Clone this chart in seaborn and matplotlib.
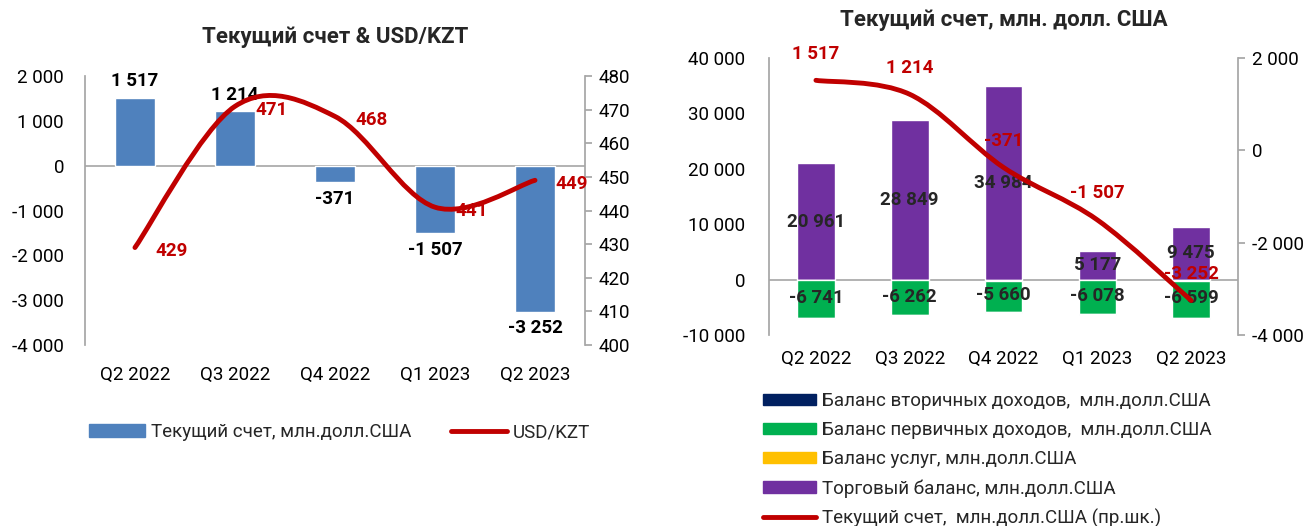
import numpy as np
import pandas as pd
import seaborn as sns
import matplotlib.pyplot as plt
from matplotlib.path import Path
from matplotlib.patches import PathPatch, Patch
from matplotlib.lines import Line2D
from matplotlib.ticker import FuncFormatter, MultipleLocator

# data
quarters = ['Q2 2022', 'Q3 2022', 'Q4 2022', 'Q1 2023', 'Q2 2023']
current_account = [1517, 1214, -371, -1507, -3252]
usd_kzt = [429, 471, 468, 441, 449]
trade_balance = [20961, 28849, 34984, 5177, 9475]
services_balance = [-150, -100, -250, -100, -250]
primary_income = [-6741, -6262, -5660, -6078, -6599]
secondary_income = [-150, -150, -180, -150, -220]

sns.set_theme(style='white')
plt.rcParams['font.family'] = ['Roboto', 'DejaVu Sans']
plt.rcParams['axes.unicode_minus'] = False

RED = '#C00000'
BLUE = '#4F81BD'
GRID = '#A6A6A6'
TICK = 13.5
LBL = 13.5
fmt = FuncFormatter(lambda v, p: f'{v:,.0f}'.replace(',', ' '))


def smooth_line(ax, ys, **kw):
    # Excel-style smoothed line as a bezier path through the data points
    xs = np.arange(len(ys), dtype=float)
    ys = np.asarray(ys, dtype=float)
    px = np.concatenate([[xs[0]], xs, [xs[-1]]])
    py = np.concatenate([[ys[0]], ys, [ys[-1]]])
    verts = [(xs[0], ys[0])]
    codes = [Path.MOVETO]
    for j in range(1, len(xs)):
        c1 = (px[j] + (px[j + 1] - px[j - 1]) / 6, py[j] + (py[j + 1] - py[j - 1]) / 6)
        c2 = (px[j + 1] - (px[j + 2] - px[j]) / 6, py[j + 1] - (py[j + 2] - py[j]) / 6)
        verts += [c1, c2, (px[j + 1], py[j + 1])]
        codes += [Path.CURVE4] * 3
    ax.add_patch(PathPatch(Path(verts, codes), facecolor='none', **kw))


def style_axes(ax, ax2, lpad):
    for a in (ax, ax2):
        for s in ('top', 'bottom'):
            a.spines[s].set_visible(False)
        a.spines['left'].set_color(GRID)
        a.spines['right'].set_color(GRID)
    ax.spines['right'].set_visible(False)
    ax2.spines['left'].set_visible(False)
    ax.tick_params(axis='x', length=0, labelsize=TICK, colors='black')
    ax.tick_params(axis='y', length=0, labelsize=TICK, colors='black', pad=lpad)
    ax2.tick_params(axis='y', right=True, length=5, color=GRID, labelsize=TICK, colors='black', pad=5)
    ax.axhline(0, color=GRID, lw=1.2, zorder=1)


fig = plt.figure(figsize=(13.09, 5.26), dpi=100)

# ---------- left chart ----------
axL = fig.add_axes([0.0649, 0.344, 0.382, 0.5114])
dfL = pd.DataFrame({'q': quarters, 'ca': current_account})
sns.barplot(data=dfL, x='q', y='ca', color=BLUE, width=0.4, saturation=1, ax=axL, zorder=2)
axL.set_xlim(-0.5, 4.5)
axL.set_ylim(-4000, 2000)
axL.yaxis.set_major_locator(MultipleLocator(1000))
axL.yaxis.set_major_formatter(fmt)
axL.set_xlabel('')
axL.set_ylabel('')
axL2 = axL.twinx()
axL2.set_ylim(400, 480)
axL2.yaxis.set_major_locator(MultipleLocator(10))
style_axes(axL, axL2, 15)
axL.tick_params(axis='x', pad=15)
axL.set_title('Текущий счет & USD/KZT', fontsize=16, fontweight='bold', pad=24)
smooth_line(axL2, usd_kzt, edgecolor=RED, lw=3.5, capstyle='round', zorder=3)
for i, v in enumerate(current_account):
    off = 170 if v > 0 else -170
    axL.text(i, v + off, fmt(v), ha='center', va='bottom' if v > 0 else 'top',
             fontsize=LBL, fontweight='bold', color='black')
for i, v in enumerate(usd_kzt):
    axL2.text(i + 0.2, v - 1, str(v), ha='left', va='center',
              fontsize=LBL, fontweight='bold', color=RED)
fig.legend(handles=[Patch(color=BLUE, label='Текущий счет, млн.долл.США'),
                    Line2D([], [], color=RED, lw=3.5, solid_capstyle='round', label='USD/KZT')],
           loc='center left', bbox_to_anchor=(0.068, 0.178), ncol=2, frameon=False,
           fontsize=TICK, handlelength=3.0, handleheight=0.7, columnspacing=2.1, handletextpad=0.3,
           borderaxespad=0, borderpad=0)

# ---------- right chart ----------
axR = fig.add_axes([0.5875, 0.3631, 0.3583, 0.5266])
x = np.arange(len(quarters))
w = 0.4
axR.bar(x, trade_balance, width=w, color='#7030A0', zorder=2)
axR.bar(x, services_balance, width=w, color='#FFC000', zorder=2)
axR.bar(x, primary_income, width=w, bottom=services_balance, color='#00B050', zorder=2)
bottom2 = np.array(services_balance) + np.array(primary_income)
axR.bar(x, secondary_income, width=w, bottom=bottom2, color='#002060', zorder=2)
axR.set_xticks(x, quarters)
axR.set_xlim(-0.5, 4.5)
axR.set_ylim(-10000, 40000)
axR.yaxis.set_major_locator(MultipleLocator(10000))
axR.yaxis.set_major_formatter(fmt)
axR2 = axR.twinx()
axR2.set_ylim(-4000, 2000)
axR2.yaxis.set_major_locator(MultipleLocator(2000))
axR2.yaxis.set_major_formatter(fmt)
style_axes(axR, axR2, 17)
axR.tick_params(axis='x', pad=11)
axR.set_title('Текущий счет, млн. долл. США', fontsize=16, fontweight='bold', pad=23)
for i, v in enumerate(trade_balance):
    axR.text(i, v / 2, fmt(v), ha='center', va='center', fontsize=LBL, fontweight='bold', zorder=4)
for i, v in enumerate(primary_income):
    axR.text(i, v / 2, fmt(v), ha='center', va='center', fontsize=LBL, fontweight='bold', zorder=4)
smooth_line(axR2, current_account, edgecolor=RED, lw=3.5, capstyle='round', zorder=3)
for i, v in enumerate(current_account):
    axR2.text(i, v + 380, fmt(v), ha='center', va='bottom', fontsize=LBL,
              fontweight='bold', color=RED, zorder=5)
fig.legend(handles=[Patch(color='#002060', label='Баланс вторичных доходов,  млн.долл.США'),
                    Patch(color='#00B050', label='Баланс первичных доходов,  млн.долл.США'),
                    Patch(color='#FFC000', label='Баланс услуг, млн.долл.США'),
                    Patch(color='#7030A0', label='Торговый баланс, млн.долл.США'),
                    Line2D([], [], color=RED, lw=3.5, solid_capstyle='round',
                           label='Текущий счет,  млн.долл.США (пр.шк.)')],
           loc='upper left', bbox_to_anchor=(0.583, 0.254), ncol=1, frameon=False,
           fontsize=TICK, handlelength=2.8, handleheight=0.55, handletextpad=0.35,
           labelspacing=0.58, borderaxespad=0, borderpad=0)

fig.savefig('out.png', dpi=100)
